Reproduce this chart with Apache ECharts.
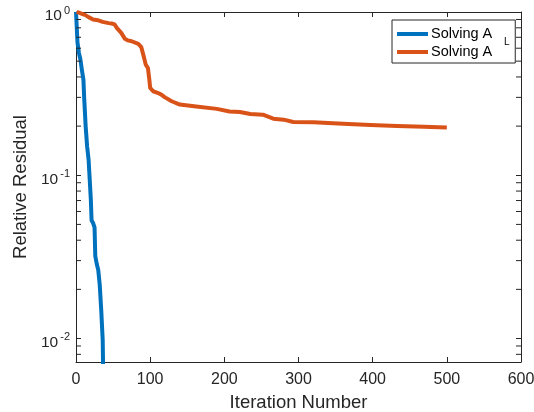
<!DOCTYPE html>
<html>
<head>
<meta charset="utf-8">
<script src="https://cdn.jsdelivr.net/npm/echarts@6/dist/echarts.min.js"></script>
<style>html,body{margin:0;padding:0;background:#fff}#c{width:534px;height:412px}</style>
</head>
<body>
<div id="c"></div>
<script>
// ---- data ----
const blueName = 'Solving A_L';
const orangeName = 'Solving A';
const blueX = [0, 2, 4, 6, 8, 10, 11, 13, 15, 16, 17, 18, 20, 21, 23, 25, 26, 28, 30, 32, 34, 36, 37];
const blueY = [1, 0.65, 0.56, 0.51, 0.44, 0.385, 0.3, 0.2, 0.15, 0.137, 0.124, 0.103, 0.071, 0.053, 0.051, 0.048, 0.032, 0.0286, 0.0263, 0.0213, 0.015, 0.0098, 0.005];
const orangeX = [1, 4, 8, 12, 17, 23, 30, 36, 44, 48, 52, 55, 61, 66, 70, 75, 84, 88, 90, 92, 94, 97, 99, 100, 104, 110, 115, 120, 129, 140, 162, 190, 207, 221, 235, 252, 266, 280, 293, 320, 360, 397, 433, 469, 500];
const orangeY = [1, 0.99, 0.975, 0.96, 0.93, 0.9, 0.89, 0.87, 0.855, 0.85, 0.84, 0.8, 0.745, 0.685, 0.67, 0.662, 0.638, 0.61, 0.562, 0.52, 0.476, 0.454, 0.38, 0.343, 0.327, 0.32, 0.312, 0.3, 0.284, 0.271, 0.264, 0.255, 0.246, 0.244, 0.237, 0.235, 0.222, 0.219, 0.212, 0.211, 0.207, 0.203, 0.2, 0.198, 0.196];
const xMin = 0, xMax = 600, xInterval = 100;
const yMin = 0.00718, yMax = 1;
const minorTicks = [0.008, 0.009, 0.02, 0.03, 0.04, 0.05, 0.06, 0.07, 0.08, 0.09, 0.2, 0.3, 0.4, 0.5, 0.6, 0.7, 0.8, 0.9];

const axisColor = '#262626';
const font = '"Liberation Sans", Arial, Helvetica, sans-serif';

const zip = (xs, ys) => xs.map((x, i) => [x, ys[i]]);

const chart = echarts.init(document.getElementById('c'), null, {renderer: 'canvas'});

const yLabelFmt = function (v) {
  const e = Math.log10(v);
  const r = Math.round(e);
  if (Math.abs(e - r) > 1e-6) return '';
  return '{b|10}{s|' + r + '}';
};

const option = {
  animation: false,
  backgroundColor: '#fff',
  grid: {left: 76, top: 12, right: 13, bottom: 50, containLabel: false, outerBoundsMode: 'none'},
  legend: {
    data: [blueName, orangeName],
    orient: 'vertical',
    left: 392, top: 20,
    padding: [6, 23, 3, 5],
    itemGap: 2,
    itemWidth: 31, itemHeight: 4,
    icon: 'rect',
    borderColor: axisColor, borderWidth: 1,
    backgroundColor: '#fff',
    textStyle: {fontFamily: font, fontSize: 14.5, lineHeight: 16, color: '#000', padding: [0, 0, 0, -2]},
    formatter: function (n) { return n === blueName ? 'Solving A' : n; }
  },
  graphic: [{
    type: 'text', left: 504, top: 37, z: 100,
    style: {text: 'L', fontSize: 10, fontFamily: font, fill: '#000'}
  }],
  xAxis: [{
    type: 'value', min: xMin, max: xMax, interval: xInterval, position: 'bottom',
    name: 'Iteration Number', nameLocation: 'middle', nameGap: 31,
    nameTextStyle: {fontFamily: font, fontSize: 18.5, color: axisColor},
    axisLine: {show: true, onZero: false, lineStyle: {color: axisColor, width: 1}},
    axisTick: {show: true, inside: true, length: 5, lineStyle: {color: axisColor}},
    axisLabel: {fontFamily: font, fontSize: 16, color: axisColor, margin: 10},
    splitLine: {show: false}
  }, {
    type: 'value', min: xMin, max: xMax, interval: xInterval, position: 'top',
    axisLine: {show: true, onZero: false, lineStyle: {color: axisColor, width: 1}},
    axisTick: {show: true, inside: true, length: 5, lineStyle: {color: axisColor}},
    axisLabel: {show: false},
    splitLine: {show: false}
  }],
  yAxis: [{
    type: 'log', logBase: 10, min: yMin, max: yMax, position: 'left',
    name: 'Relative Residual', nameLocation: 'middle', nameGap: 46,
    nameTextStyle: {fontFamily: font, fontSize: 18.5, color: axisColor},
    axisLine: {show: true, onZero: false, lineStyle: {color: axisColor, width: 1}},
    axisTick: {show: true, inside: true, length: 5, lineStyle: {color: axisColor}},
    axisLabel: {
      formatter: yLabelFmt, margin: 6, padding: [8, 0, 0, 0], color: axisColor,
      rich: {
        b: {fontFamily: font, fontSize: 15.5, lineHeight: 22, color: axisColor},
        s: {fontFamily: font, fontSize: 11, lineHeight: 11, verticalAlign: 'top', color: axisColor, padding: [0, 0, 0, 2]}
      }
    },
    splitLine: {show: false}
  }, {
    type: 'log', logBase: 10, min: yMin, max: yMax, position: 'right',
    axisLine: {show: true, onZero: false, lineStyle: {color: axisColor, width: 1}},
    axisTick: {show: true, inside: true, length: 5, lineStyle: {color: axisColor}},
    axisLabel: {show: false},
    splitLine: {show: false}
  }],
  series: [{
    name: blueName, type: 'line', xAxisIndex: 0, yAxisIndex: 0,
    data: zip(blueX, blueY), showSymbol: false, symbol: 'none', clip: true,
    lineStyle: {color: '#0072BD', width: 4, join: 'round'},
    itemStyle: {color: '#0072BD'}
  }, {
    name: orangeName, type: 'line', xAxisIndex: 0, yAxisIndex: 0,
    data: zip(orangeX, orangeY), showSymbol: false, symbol: 'none', clip: true,
    lineStyle: {color: '#D95319', width: 4, join: 'round'},
    itemStyle: {color: '#D95319'}
  }, {
    type: 'custom', xAxisIndex: 0, yAxisIndex: 0, silent: true, z: 5,
    data: minorTicks.map(v => [xMin, v]),
    renderItem: function (params, api) {
      const cs = params.coordSys;
      const y = api.coord([xMin, api.value(1)])[1];
      const st = {stroke: axisColor, lineWidth: 1};
      return {type: 'group', children: [
        {type: 'line', shape: {x1: cs.x, y1: y, x2: cs.x + 5, y2: y}, style: st},
        {type: 'line', shape: {x1: cs.x + cs.width - 5, y1: y, x2: cs.x + cs.width, y2: y}, style: st}
      ]};
    }
  }]
};
chart.setOption(option);
</script>
</body>
</html>
